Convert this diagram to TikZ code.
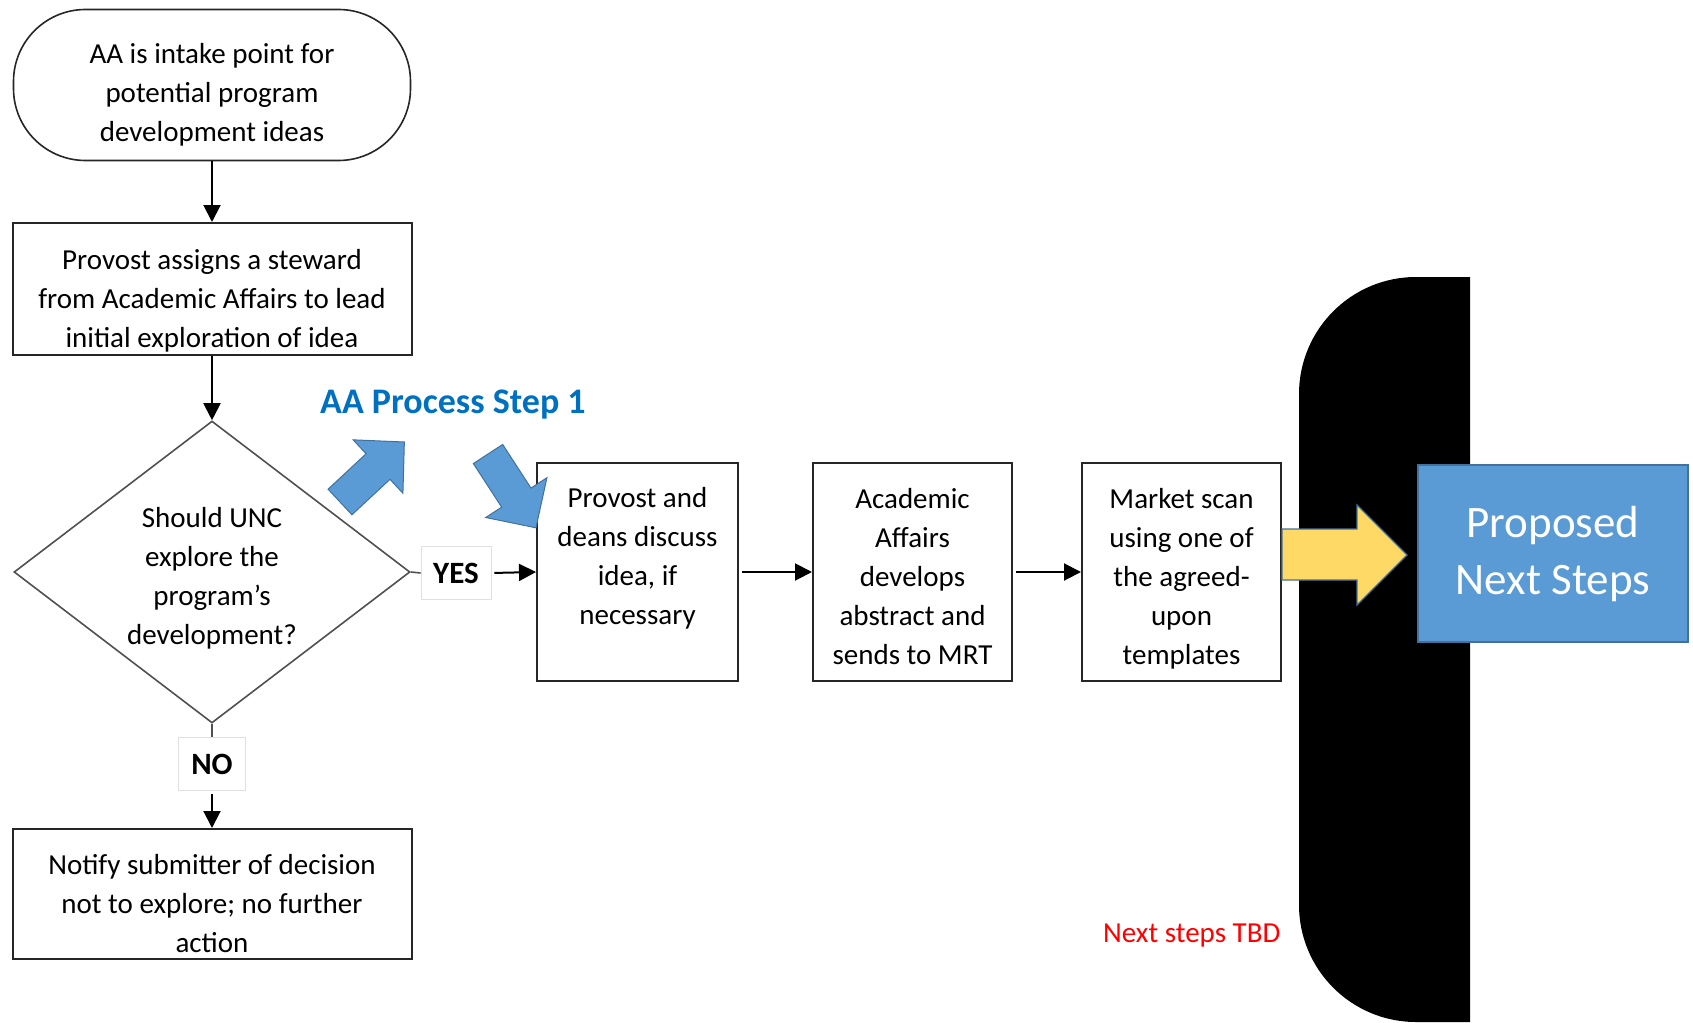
\documentclass[tikz,border=0pt]{standalone}
\usepackage{fontspec}
\setmainfont{Carlito}
\usetikzlibrary{shapes.geometric, arrows.meta, positioning, calc}
\definecolor{framegray}{RGB}{38,38,38}
\definecolor{diagray}{RGB}{80,80,80}
\definecolor{stepblue}{RGB}{0,112,192}
\definecolor{arrowblue}{RGB}{91,155,213}
\definecolor{edgeblue}{RGB}{65,113,156}
\definecolor{goldfill}{RGB}{255,217,102}
\newcommand{\flowfont}{\fontsize{29}{39}\selectfont}
\newcommand{\answerfont}{\fontsize{31}{36}\selectfont\bfseries}
\newcommand{\titlefont}{\fontsize{36}{42}\selectfont\bfseries}
\newcommand{\nextfont}{\fontsize{45}{57}\selectfont}
\newcommand{\dropto}[1]{\rule{0pt}{#1}}

\begin{document}
\begin{tikzpicture}[x=1pt, y=-1pt,
  termbox/.style={draw=framegray, line width=1.6pt, rounded corners=72pt, minimum width=397pt, minimum height=151pt, align=center, font=\flowfont, inner sep=0pt},
  procbox/.style={draw=framegray, line width=2pt, align=center, font=\flowfont, inner sep=0pt},
  choice/.style={diamond, aspect=1.3, draw=diagray, line width=1.6pt, minimum width=396pt, minimum height=302pt, align=center, font=\flowfont, inner sep=0pt},
  answer/.style={draw=black!12, fill=white, line width=0.8pt, minimum width=70pt, minimum height=53pt, font=\answerfont, inner sep=0pt},
  flowarrow/.style={-{Triangle[length=17pt, width=17pt]}, line width=2pt},
  blockarrow/.style={fill=arrowblue, draw=edgeblue, line width=1pt}
]
  \useasboundingbox (0,0) rectangle (1693,1022);

  % black backdrop
  \fill[black, rounded corners=117pt] (1470,277) -- (1299,277) -- (1299,1022) -- (1470,1022);

  % left column
  \node[termbox] (start) at (212,85) {\dropto{40pt}AA is intake point for\\potential program\\development ideas};
  \node[procbox, minimum width=399pt, minimum height=132pt] (assign) at (212,289)
    {\dropto{43pt}Provost assigns a steward\\from Academic Affairs to lead\\initial exploration of idea};
  \node[choice] (decide) at (212,572) {\dropto{33pt}Should UNC\\explore the\\program’s\\development?};
  \node[answer] (yes) at (456,573) {YES};
  \node[answer, minimum width=67pt] (no) at (212,764) {NO};
  \node[procbox, minimum width=399pt, minimum height=130pt] (notify) at (212,894)
    {\dropto{39pt}Notify submitter of decision\\not to explore; no further\\action};

  % row of steps
  \node[procbox, minimum width=201pt, minimum height=218pt] (discuss) at (637.5,572)
    {\dropto{27pt}Provost and\\deans discuss\\idea, if\\necessary\\\mbox{}};
  \node[procbox, minimum width=199pt, minimum height=218pt] (abstract) at (912.5,572)
    {\dropto{29pt}Academic\\Affairs\\develops\\abstract and\\sends to MRT};
  \node[procbox, minimum width=199pt, minimum height=218pt] (scan) at (1181.5,572)
    {\dropto{33pt}Market scan\\using one of\\the agreed-\\upon\\templates};

  \draw[flowarrow] (start) -- (assign);
  \draw[flowarrow] (assign) -- (decide);
  \draw[line width=1.6pt, diagray] (decide.east) -- (yes.west);
  \draw[flowarrow, shorten <=3pt] (yes.east) -- (discuss.west);
  \draw[line width=1.6pt, diagray] (decide.south) -- (no.north);
  \draw[flowarrow, shorten <=3pt] (no.south) -- (notify.north);
  \draw[flowarrow, shorten <=3pt] (discuss) -- (abstract);
  \draw[flowarrow, shorten <=3pt] (abstract) -- (scan);

  % step label and blue block arrows
  \node[anchor=base west, inner sep=0pt, font=\titlefont, text=stepblue] (title) at (320,413) {AA Process Step 1};
  \foreach \tx/\ty/\ang in {340/502/43, 488/454/-57}
    \filldraw[blockarrow, shift={(\tx,\ty)}, rotate=\ang]
      (0,-17.5) -- (52,-17.5) -- (52,-36.5) -- (88,0) -- (52,36.5) -- (52,17.5) -- (0,17.5) -- cycle;

  % hand-off to next steps
  \filldraw[fill=goldfill, draw=edgeblue, line width=1.2pt]
    (1282,529) -- (1357,529) -- (1357,505) -- (1407,555) -- (1357,605) -- (1357,580) -- (1282,580) -- cycle;
  \node[draw=edgeblue, fill=arrowblue, line width=1.5pt, minimum width=270pt, minimum height=177pt,
    align=center, font=\nextfont, text=white, inner sep=0pt] (proposed) at (1553,553.5) {Proposed\\Next Steps};

  \node[anchor=base west, inner sep=0pt, text=red, font=\fontsize{29}{35}\selectfont] (tbd) at (1103,942) {Next steps TBD};
\end{tikzpicture}
\end{document}
